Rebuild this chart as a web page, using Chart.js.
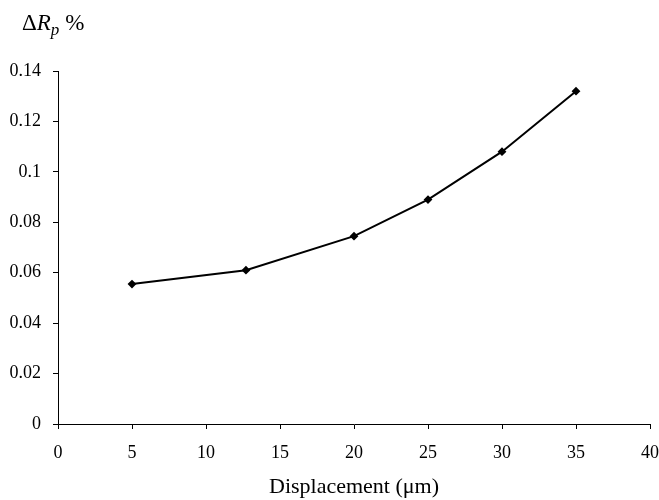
<!DOCTYPE html>
<html>
<head>
<meta charset="utf-8">
<script src="https://cdn.jsdelivr.net/npm/chart.js@4.4.1/dist/chart.umd.min.js"></script>
<style>
  html, body { margin: 0; padding: 0; background: #fff; }
  #wrap { width: 659px; height: 500px; position: relative; }
</style>
</head>
<body>
<div id="wrap"><canvas id="dispChart" width="659" height="500"></canvas></div>
<script>
// data
const displacement = [5, 12.7, 20, 25, 30, 35];
const deltaRp = [0.0555, 0.061, 0.0745, 0.089, 0.108, 0.132];
const xTicks = [0, 5, 10, 15, 20, 25, 30, 35, 40];
const yTicks = [0, 0.02, 0.04, 0.06, 0.08, 0.1, 0.12, 0.14];

const FONT = "'Liberation Serif', 'DejaVu Serif', serif";

// y axis title with italic R and subscript p
const yTitlePlugin = {
  id: "yTitle",
  afterDraw(chart) {
    const c = chart.ctx;
    c.save();
    c.fillStyle = "#000";
    c.textBaseline = "alphabetic";
    let x = 22, y = 30;
    c.font = "23px " + FONT;
    c.fillText("Δ", x, y);
    x += c.measureText("Δ").width;
    c.font = "italic 23px " + FONT;
    c.fillText("R", x, y);
    x += c.measureText("R").width;
    c.font = "italic 17px " + FONT;
    c.fillText("p", x, y + 5);
    x += c.measureText("p").width + 6;
    c.font = "23px " + FONT;
    c.fillText("%", x, y);
    c.restore();
  },
};

new Chart(document.getElementById("dispChart"), {
  type: "scatter",
  data: {
    datasets: [
      {
        data: displacement.map((d, i) => ({ x: d, y: deltaRp[i] })),
        showLine: true,
        borderColor: "#000",
        backgroundColor: "#000",
        borderWidth: 2,
        pointStyle: "rectRot",
        pointRadius: 3,
        tension: 0,
      },
    ],
  },
  options: {
    responsive: false,
    animation: false,
    layout: { padding: { top: 71, right: 9, left: 0, bottom: 0 } },
    plugins: { legend: { display: false }, tooltip: { enabled: false } },
    scales: {
      x: {
        type: "linear",
        min: 0,
        max: 40,
        afterBuildTicks: (s) => { s.ticks = xTicks.map((v) => ({ value: v })); },
        afterFit: (s) => {
          s.height = 76;
          s.paddingLeft = 0;
          s.paddingRight = 0;
        },
        grid: { drawOnChartArea: false, color: "#000", tickLength: 5 },
        border: { color: "#000", width: 1 },
        ticks: {
          color: "#000",
          font: { family: FONT, size: 18 },
          padding: 13,
          maxRotation: 0,
        },
        title: {
          display: true,
          text: "Displacement (μm)",
          color: "#000",
          font: { family: FONT, size: 22 },
          padding: { top: 0, bottom: 0 },
        },
      },
      y: {
        min: 0,
        max: 0.14,
        afterBuildTicks: (s) => { s.ticks = yTicks.map((v) => ({ value: v })); },
        afterFit: (s) => {
          s.width = 58;
          s.paddingTop = 0;
          s.paddingBottom = 0;
        },
        grid: { drawOnChartArea: false, color: "#000", tickLength: 5 },
        border: { color: "#000", width: 1 },
        ticks: {
          color: "#000",
          font: { family: FONT, size: 18 },
          padding: 12,
          callback: (v) => String(+v.toFixed(2)),
        },
      },
    },
  },
  plugins: [yTitlePlugin],
});
</script>
</body>
</html>
